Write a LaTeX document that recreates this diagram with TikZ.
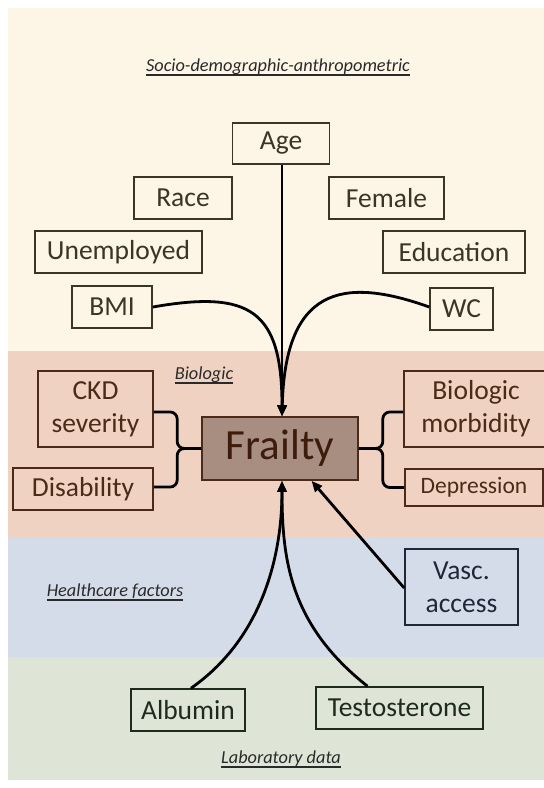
\documentclass[tikz,border=0pt]{standalone}
\usepackage{fontspec}
\setmainfont{Carlito}
\usetikzlibrary{arrows.meta,calc}
\definecolor{creamb}{HTML}{FDF6E7}
\definecolor{pinkb}{HTML}{EFD2C1}
\definecolor{blueb}{HTML}{D5DCE9}
\definecolor{greenb}{HTML}{DEE5D7}
\definecolor{topc}{HTML}{3B3528}
\definecolor{pinkc}{HTML}{4B2A18}
\definecolor{bluec}{HTML}{1F2838}
\definecolor{greenc}{HTML}{1E2A1E}
\definecolor{frailfill}{HTML}{A88E80}
\definecolor{frailtext}{HTML}{3D1C0C}
\definecolor{labc}{HTML}{2A2A2A}
\begin{document}
\begin{tikzpicture}[x=1pt,y=-1pt,
  fbox/.style={draw, line width=1.6pt, inner sep=0pt, align=center, font=\fontsize{27.5}{33}\selectfont},
  topbox/.style={fbox, draw=topc, text=topc},
  pinkbox/.style={fbox, draw=pinkc, text=pinkc},
  bluebox/.style={fbox, draw=bluec, text=bluec},
  greenbox/.style={fbox, draw=greenc, text=greenc},
  conn/.style={line width=2.8pt, black},
  arr/.style={conn, -{Triangle[length=11pt,width=9pt]}},
  sect/.style={inner sep=0pt, anchor=base, font=\fontsize{18.3}{21}\selectfont\itshape, text=labc},
  ul/.style={line width=1.1pt, labc}
]
\clip (0,0) rectangle (544,788);
\fill[white] (0,0) rectangle (544,788);
% bands
\fill[creamb] (8,8) rectangle (544,351);
\fill[pinkb] (8,351) rectangle (544,537);
\fill[blueb] (8,537) rectangle (544,657);
\fill[greenb] (8,657) rectangle (544,780);

% section labels
\node[sect] (tsoc) at (278,71) {Socio-demographic-anthropometric};
\node[sect] (tbio) at (204,379) {Biologic};
\node[sect] (thc) at (115,596) {Healthcare factors};
\node[sect] (tlab) at (281,763) {Laboratory data};
\foreach \n in {tsoc,tbio,thc,tlab}{
  \draw[ul] ($(\n.base west)+(0,4)$) -- ($(\n.base east)+(0,4)$);
}

% top boxes
\node[topbox, minimum width=97pt, minimum height=41pt] (age) at (281,143.5) {Age};
\node[topbox, minimum width=98pt, minimum height=42pt] (race) at (183,198) {Race};
\node[topbox, minimum width=115pt, minimum height=42pt] (female) at (386.5,198) {Female};
\node[topbox, minimum width=167pt, minimum height=42pt] (unemp) at (118.5,252) {Unemployed};
\node[topbox, minimum width=142pt, minimum height=42pt] (educ) at (454,252) {Education};
\node[topbox, minimum width=80pt, minimum height=42pt] (bmi) at (112,307) {BMI};
\node[topbox, minimum width=63pt, minimum height=42pt] (wc) at (461.5,309) {WC};

% biologic
\node[draw=pinkc, line width=1.6pt, fill=frailfill, text=frailtext, inner sep=0pt,
      minimum width=156pt, minimum height=63pt, font=\fontsize{43}{43}\selectfont] (frailty) at (280,448.5) {Frailty};
\node[pinkbox, minimum width=115pt, minimum height=76pt] (ckd) at (95.5,409) {CKD\\severity};
\node[pinkbox, minimum width=140pt, minimum height=42pt] (disab) at (83,489) {Disability};
\node[pinkbox, minimum width=144pt, minimum height=76pt] (morb) at (476,409) {Biologic\\morbidity};
\node[pinkbox, minimum width=138pt, minimum height=37pt, font=\fontsize{23.5}{28}\selectfont] (depr) at (474,487.5) {Depression};

% healthcare / lab
\node[bluebox, minimum width=113pt, minimum height=76pt] (vasc) at (461.5,587) {Vasc.\\access};
\node[greenbox, minimum width=114pt, minimum height=42pt] (alb) at (188,710) {Albumin};
\node[greenbox, minimum width=167pt, minimum height=42pt] (testo) at (399.5,708) {Testosterone};

% tips
\coordinate (toptip) at ($(frailty.north)+(2,0)$);
\coordinate (bottip) at ($(frailty.south)+(2,0)$);
\coordinate (vasctip) at ($(frailty.south west)!0.7!(frailty.south east)$);

% arrows into Frailty from the top
\draw[arr] (age.south -| toptip) -- (toptip);
\draw[arr] (bmi.east) .. controls (250,290) and (282,310) .. (toptip);
\draw[arr] ($(wc.west)+(0,-2)$) .. controls (340,275) and (285,290) .. (toptip);

% arrows from the bottom
\draw[arr] ($(alb.north)+(3,0)$) .. controls (260,640) and (282,560) .. (bottip);
\draw[arr] ($(testo.north west)!0.31!(testo.north east)$) .. controls (290,625) and (282,560) .. (bottip);
\draw[arr] ($(vasc.west)+(0,1)$) -- (vasctip);

% brackets
\draw[conn, rounded corners=7pt] ($(ckd.east)+(0,3)$) -| ($(frailty.west)+(-24,0)$) -- (frailty.west);
\draw[conn, rounded corners=7pt] ($(disab.east)+(0,-2)$) -| ($(frailty.west)+(-24,0)$) -- (frailty.west);
\draw[conn, rounded corners=7pt] (frailty.east) -- ($(frailty.east)+(24,0)$) |- ($(morb.west)+(0,3)$);
\draw[conn, rounded corners=7pt] (frailty.east) -- ($(frailty.east)+(24,0)$) |- (depr.west);
\end{tikzpicture}
\end{document}
